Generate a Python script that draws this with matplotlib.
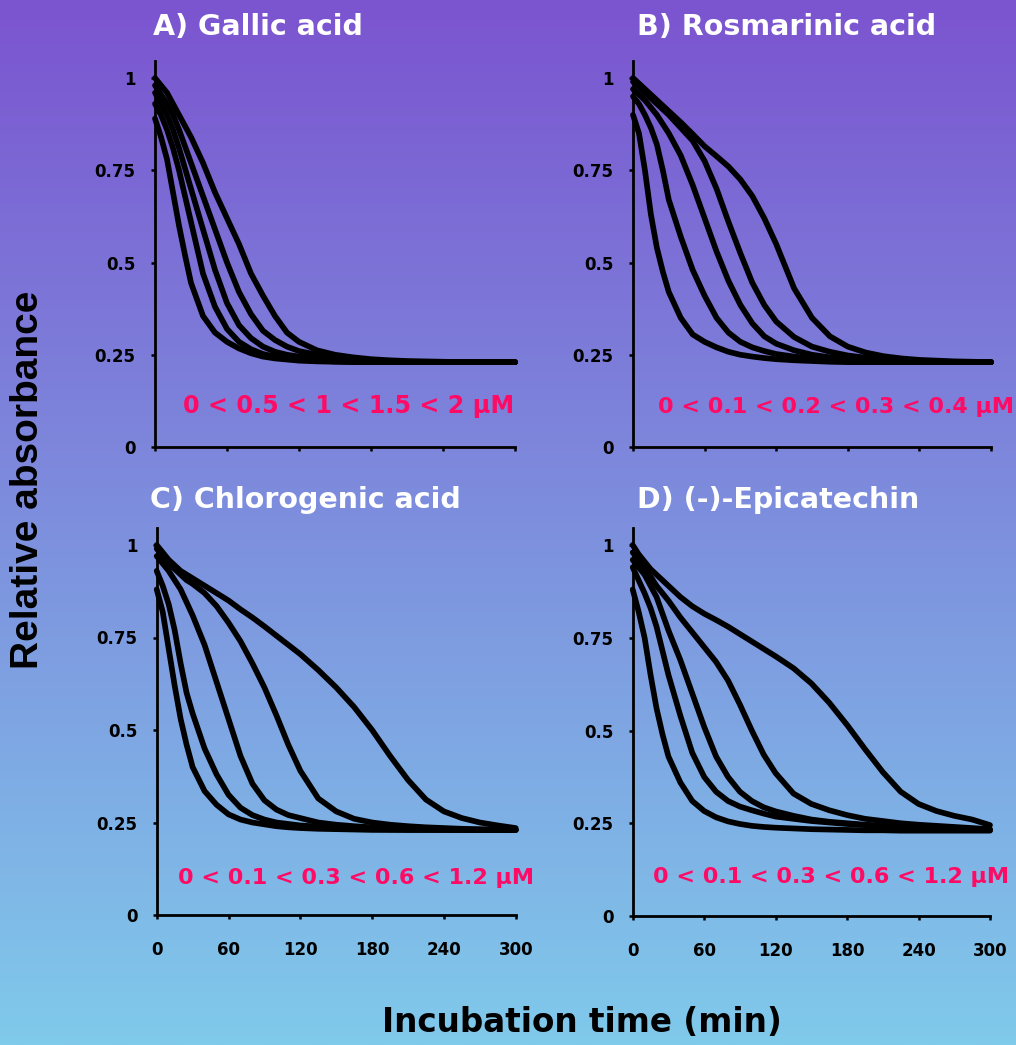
import numpy as np
import matplotlib
matplotlib.use("Agg")
import matplotlib.pyplot as plt

# ---------------- data ----------------
time_min = [0, 5, 10, 15, 20, 25, 30, 40, 50, 60, 70, 80, 90, 100, 110, 120,
            135, 150, 165, 180, 195, 210, 225, 240, 255, 270, 285, 300]

gallic_0 = [0.89, 0.84, 0.78, 0.69, 0.60, 0.52, 0.445, 0.355, 0.31, 0.285, 0.267, 0.254, 0.245, 0.24, 0.237, 0.234,
            0.232, 0.231, 0.23, 0.23, 0.23, 0.23, 0.23, 0.23, 0.23, 0.23, 0.23, 0.23]
gallic_05 = [0.93, 0.90, 0.86, 0.81, 0.75, 0.68, 0.61, 0.47, 0.38, 0.32, 0.285, 0.265, 0.252, 0.245, 0.24, 0.237,
             0.234, 0.232, 0.231, 0.23, 0.23, 0.23, 0.23, 0.23, 0.23, 0.23, 0.23, 0.23]
gallic_1 = [0.96, 0.93, 0.90, 0.86, 0.81, 0.755, 0.70, 0.59, 0.48, 0.39, 0.33, 0.295, 0.272, 0.258, 0.25, 0.245,
            0.24, 0.235, 0.232, 0.23, 0.23, 0.23, 0.23, 0.23, 0.23, 0.23, 0.23, 0.23]
gallic_15 = [0.98, 0.955, 0.93, 0.90, 0.86, 0.815, 0.77, 0.68, 0.59, 0.50, 0.42, 0.36, 0.315, 0.29, 0.272, 0.26,
             0.25, 0.242, 0.238, 0.235, 0.233, 0.231, 0.23, 0.23, 0.23, 0.23, 0.23, 0.23]
gallic_2 = [1.0, 0.98, 0.96, 0.93, 0.90, 0.87, 0.84, 0.77, 0.69, 0.62, 0.55, 0.47, 0.41, 0.355, 0.31, 0.285,
            0.262, 0.25, 0.243, 0.238, 0.235, 0.233, 0.232, 0.231, 0.23, 0.23, 0.23, 0.23]

rosmarinic_0 = [0.90, 0.85, 0.75, 0.63, 0.54, 0.475, 0.42, 0.35, 0.305, 0.285, 0.27, 0.258, 0.25, 0.245, 0.241, 0.238,
                0.235, 0.233, 0.231, 0.23, 0.23, 0.23, 0.23, 0.23, 0.23, 0.23, 0.23, 0.23]
rosmarinic_01 = [0.95, 0.93, 0.90, 0.865, 0.82, 0.75, 0.67, 0.57, 0.48, 0.41, 0.35, 0.31, 0.285, 0.27, 0.26, 0.252,
                 0.245, 0.24, 0.236, 0.233, 0.231, 0.23, 0.23, 0.23, 0.23, 0.23, 0.23, 0.23]
rosmarinic_02 = [0.97, 0.955, 0.94, 0.92, 0.90, 0.875, 0.85, 0.79, 0.71, 0.62, 0.53, 0.45, 0.385, 0.335, 0.30, 0.28,
                 0.262, 0.25, 0.243, 0.239, 0.236, 0.234, 0.232, 0.231, 0.23, 0.23, 0.23, 0.23]
rosmarinic_03 = [0.99, 0.975, 0.96, 0.945, 0.93, 0.915, 0.90, 0.865, 0.83, 0.775, 0.70, 0.61, 0.525, 0.445, 0.385, 0.34,
                 0.298, 0.272, 0.258, 0.248, 0.242, 0.238, 0.235, 0.233, 0.231, 0.23, 0.23, 0.23]
rosmarinic_04 = [1.0, 0.985, 0.97, 0.955, 0.94, 0.925, 0.91, 0.88, 0.848, 0.815, 0.788, 0.76, 0.725, 0.68, 0.62, 0.55,
                 0.43, 0.35, 0.30, 0.272, 0.256, 0.246, 0.24, 0.236, 0.234, 0.232, 0.231, 0.23]

chlorogenic_0 = [0.88, 0.82, 0.72, 0.62, 0.53, 0.46, 0.40, 0.335, 0.298, 0.272, 0.258, 0.25, 0.245, 0.24, 0.237, 0.235,
                 0.233, 0.232, 0.231, 0.23, 0.23, 0.23, 0.23, 0.23, 0.23, 0.23, 0.23, 0.23]
chlorogenic_01 = [0.93, 0.89, 0.84, 0.77, 0.68, 0.60, 0.545, 0.45, 0.38, 0.325, 0.29, 0.27, 0.258, 0.25, 0.246, 0.242,
                  0.239, 0.236, 0.234, 0.232, 0.231, 0.23, 0.23, 0.23, 0.23, 0.23, 0.23, 0.23]
chlorogenic_03 = [0.97, 0.95, 0.93, 0.905, 0.88, 0.845, 0.81, 0.73, 0.63, 0.53, 0.43, 0.355, 0.31, 0.285, 0.27, 0.262,
                  0.25, 0.244, 0.24, 0.237, 0.235, 0.233, 0.232, 0.231, 0.23, 0.23, 0.23, 0.23]
chlorogenic_06 = [0.99, 0.97, 0.95, 0.935, 0.92, 0.905, 0.895, 0.87, 0.835, 0.79, 0.74, 0.68, 0.615, 0.54, 0.46, 0.39,
                  0.315, 0.28, 0.26, 0.25, 0.244, 0.24, 0.237, 0.235, 0.233, 0.232, 0.231, 0.23]
chlorogenic_12 = [1.0, 0.98, 0.96, 0.945, 0.93, 0.92, 0.91, 0.89, 0.87, 0.85, 0.826, 0.804, 0.78, 0.755, 0.73, 0.705,
                  0.662, 0.615, 0.562, 0.50, 0.43, 0.365, 0.312, 0.28, 0.262, 0.25, 0.242, 0.235]

epicatechin_0 = [0.88, 0.82, 0.75, 0.65, 0.56, 0.49, 0.43, 0.36, 0.31, 0.283, 0.266, 0.255, 0.248, 0.243, 0.24, 0.238,
                 0.236, 0.234, 0.233, 0.232, 0.231, 0.231, 0.23, 0.23, 0.23, 0.23, 0.23, 0.23]
epicatechin_01 = [0.94, 0.905, 0.87, 0.83, 0.78, 0.715, 0.65, 0.54, 0.44, 0.375, 0.335, 0.31, 0.295, 0.285, 0.276, 0.268,
                  0.262, 0.256, 0.252, 0.248, 0.245, 0.242, 0.24, 0.238, 0.236, 0.235, 0.233, 0.232]
epicatechin_03 = [0.96, 0.94, 0.92, 0.89, 0.86, 0.815, 0.77, 0.69, 0.60, 0.51, 0.43, 0.375, 0.335, 0.31, 0.293, 0.282,
                  0.27, 0.26, 0.254, 0.25, 0.246, 0.243, 0.24, 0.238, 0.237, 0.235, 0.234, 0.232]
epicatechin_06 = [0.98, 0.96, 0.94, 0.915, 0.89, 0.87, 0.85, 0.805, 0.765, 0.725, 0.685, 0.635, 0.57, 0.50, 0.435, 0.385,
                  0.33, 0.302, 0.285, 0.272, 0.262, 0.256, 0.25, 0.246, 0.243, 0.24, 0.237, 0.234]
epicatechin_12 = [1.0, 0.975, 0.955, 0.935, 0.92, 0.905, 0.89, 0.86, 0.835, 0.815, 0.798, 0.78, 0.76, 0.74, 0.72, 0.70,
                  0.668, 0.627, 0.575, 0.515, 0.45, 0.388, 0.335, 0.302, 0.283, 0.27, 0.26, 0.245]

panel_titles = ["A) Gallic acid", "B) Rosmarinic acid", "C) Chlorogenic acid", "D) (-)-Epicatechin"]
panel_legends = ["0 < 0.5 < 1 < 1.5 < 2 \u00b5M", "0 < 0.1 < 0.2 < 0.3 < 0.4 \u00b5M",
                 "0 < 0.1 < 0.3 < 0.6 < 1.2 \u00b5M", "0 < 0.1 < 0.3 < 0.6 < 1.2 \u00b5M"]
panel_series = [
    [gallic_0, gallic_05, gallic_1, gallic_15, gallic_2],
    [rosmarinic_0, rosmarinic_01, rosmarinic_02, rosmarinic_03, rosmarinic_04],
    [chlorogenic_0, chlorogenic_01, chlorogenic_03, chlorogenic_06, chlorogenic_12],
    [epicatechin_0, epicatechin_01, epicatechin_03, epicatechin_06, epicatechin_12],
]
x_ticks = [0, 60, 120, 180, 240, 300]
y_ticks = [0, 0.25, 0.5, 0.75, 1]
y_tick_labels = ["0", "0.25", "0.5", "0.75", "1"]

# ---------------- figure ----------------
W, H = 1016, 1045
fig = plt.figure(figsize=(W / 100, H / 100), dpi=100)

# background gradient
bg = fig.add_axes([0, 0, 1, 1], zorder=-10)
top = np.array([123, 84, 208]) / 255.0
bot = np.array([128, 202, 235]) / 255.0
f = np.linspace(0, 1, 400)[:, None]
grad = (top[None, :] * (1 - f) + bot[None, :] * f)[:, None, :]
bg.imshow(grad, aspect="auto", extent=[0, 1, 0, 1], interpolation="bilinear")
bg.set_axis_off()


def fx(px):
    return px / W


def fy(py):
    return 1 - py / H


# axes rectangles in pixel terms: (x0 px, y0 px (value 0), px per 300 min, px per unit)
rects = [
    (155.0, 447.0, 360.0, 369.0),
    (633.0, 447.0, 358.0, 369.0),
    (156.7, 915.0, 359.0, 370.0),
    (632.7, 916.0, 357.3, 371.0),
]
ytop = 1.045
title_pos = [(153, 35), (637, 35), (150, 508), (637, 508)]
legend_pos = [(183, 413, 17.2), (658, 413, 16), (178, 884, 16), (653, 883, 16)]

for i, (x0, y0, wpx, hpx) in enumerate(rects):
    ax = fig.add_axes([fx(x0), fy(y0), wpx / W, hpx * ytop / H])
    ax.set_facecolor("none")
    for s in panel_series[i]:
        ax.plot(time_min, s, color="black", lw=4.1, solid_capstyle="round",
                solid_joinstyle="round", clip_on=False, zorder=3)
    ax.set_xlim(0, 300)
    ax.set_ylim(0, ytop)
    for sp in ["top", "right"]:
        ax.spines[sp].set_visible(False)
    for sp in ["left", "bottom"]:
        ax.spines[sp].set_linewidth(2.0)
        ax.spines[sp].set_color("black")
        ax.spines[sp].set_zorder(4)
    ax.set_yticks(y_ticks)
    ax.set_yticklabels(y_tick_labels)
    ax.set_xticks(x_ticks)
    if i >= 2:
        ax.set_xticklabels([str(v) for v in x_ticks])
    else:
        ax.set_xticklabels([])
    ax.tick_params(axis="y", direction="out", length=3, width=1.8, pad=11,
                   labelsize=12, colors="black")
    ax.tick_params(axis="x", direction="out", length=3, width=1.8, pad=16,
                   labelsize=12, colors="black")
    for lab in ax.get_xticklabels() + ax.get_yticklabels():
        lab.set_fontweight("bold")
        lab.set_fontfamily("DejaVu Sans")

    tx, ty = title_pos[i]
    fig.text(fx(tx), fy(ty), panel_titles[i], color="white", fontsize=20.5,
             fontweight="bold", family="DejaVu Sans", ha="left", va="baseline")
    lx, ly, ls = legend_pos[i]
    fig.text(fx(lx), fy(ly), panel_legends[i], color="#ff0a64", fontsize=ls,
             fontweight="bold", family="DejaVu Sans", ha="left", va="baseline")

fig.text(fx(28), fy(480), "Relative absorbance", rotation=90, fontsize=28,
         fontweight="bold", family="Liberation Sans", ha="center", va="center", color="black")
fig.text(fx(582), fy(1032), "Incubation time (min)", fontsize=23.5,
         fontweight="bold", family="DejaVu Sans", ha="center", va="baseline", color="black")

fig.savefig("out.png", dpi=100)
